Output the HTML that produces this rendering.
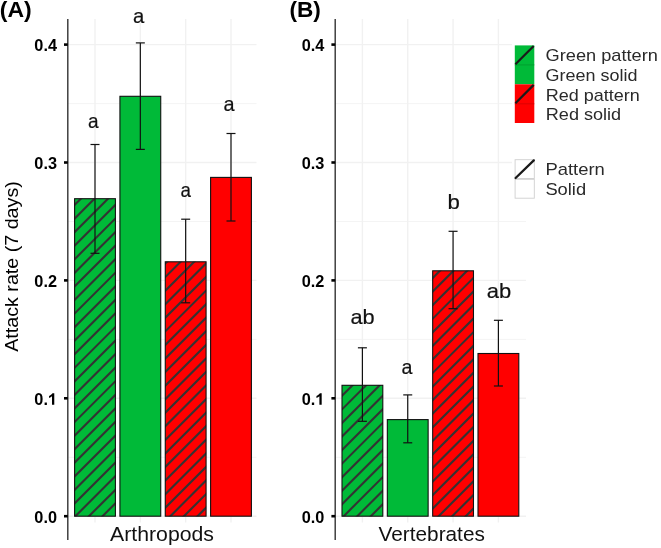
<!DOCTYPE html>
<html><head><meta charset="utf-8"><title>Attack rate chart</title>
<style>
html,body{margin:0;padding:0;background:#fff;}
body{width:661px;height:548px;overflow:hidden;}
svg{display:block;will-change:transform;}
text{font-family:"Liberation Sans",sans-serif;}
.lab{font-size:20.8px;fill:#111;stroke:#111;stroke-width:0.2px;}
.tick{font-size:16.3px;font-weight:bold;fill:#000;}
.leg{font-size:17px;fill:#2a2a2a;}
.pan{font-size:22px;font-weight:bold;fill:#000;}
.xl{font-size:20.5px;fill:#111;}
.yl{font-size:19.8px;fill:#000;}
</style></head>
<body>
<svg width="661" height="548" viewBox="0 0 661 548">
<rect width="100%" height="100%" fill="#fff"/>
<line x1="67.8" y1="457.25" x2="256.5" y2="457.25" stroke="#F1F1F1" stroke-width="0.8"/>
<line x1="67.8" y1="339.35" x2="256.5" y2="339.35" stroke="#F1F1F1" stroke-width="0.8"/>
<line x1="67.8" y1="221.45" x2="256.5" y2="221.45" stroke="#F1F1F1" stroke-width="0.8"/>
<line x1="67.8" y1="103.55" x2="256.5" y2="103.55" stroke="#F1F1F1" stroke-width="0.8"/>
<line x1="67.8" y1="516.20" x2="256.5" y2="516.20" stroke="#F1F1F1" stroke-width="1.4"/>
<line x1="67.8" y1="398.30" x2="256.5" y2="398.30" stroke="#F1F1F1" stroke-width="1.4"/>
<line x1="67.8" y1="280.40" x2="256.5" y2="280.40" stroke="#F1F1F1" stroke-width="1.4"/>
<line x1="67.8" y1="162.50" x2="256.5" y2="162.50" stroke="#F1F1F1" stroke-width="1.4"/>
<line x1="67.8" y1="44.60" x2="256.5" y2="44.60" stroke="#F1F1F1" stroke-width="1.4"/>
<line x1="95.00" y1="19.0" x2="95.00" y2="522.5" stroke="#F1F1F1" stroke-width="1.4"/>
<line x1="140.33" y1="19.0" x2="140.33" y2="522.5" stroke="#F1F1F1" stroke-width="1.4"/>
<line x1="185.67" y1="19.0" x2="185.67" y2="522.5" stroke="#F1F1F1" stroke-width="1.4"/>
<line x1="231.00" y1="19.0" x2="231.00" y2="522.5" stroke="#F1F1F1" stroke-width="1.4"/>
<line x1="335.2" y1="457.25" x2="526.0" y2="457.25" stroke="#F1F1F1" stroke-width="0.8"/>
<line x1="335.2" y1="339.35" x2="526.0" y2="339.35" stroke="#F1F1F1" stroke-width="0.8"/>
<line x1="335.2" y1="221.45" x2="526.0" y2="221.45" stroke="#F1F1F1" stroke-width="0.8"/>
<line x1="335.2" y1="103.55" x2="526.0" y2="103.55" stroke="#F1F1F1" stroke-width="0.8"/>
<line x1="335.2" y1="516.20" x2="526.0" y2="516.20" stroke="#F1F1F1" stroke-width="1.4"/>
<line x1="335.2" y1="398.30" x2="526.0" y2="398.30" stroke="#F1F1F1" stroke-width="1.4"/>
<line x1="335.2" y1="280.40" x2="526.0" y2="280.40" stroke="#F1F1F1" stroke-width="1.4"/>
<line x1="335.2" y1="162.50" x2="526.0" y2="162.50" stroke="#F1F1F1" stroke-width="1.4"/>
<line x1="335.2" y1="44.60" x2="526.0" y2="44.60" stroke="#F1F1F1" stroke-width="1.4"/>
<line x1="362.40" y1="19.0" x2="362.40" y2="522.5" stroke="#F1F1F1" stroke-width="1.4"/>
<line x1="407.73" y1="19.0" x2="407.73" y2="522.5" stroke="#F1F1F1" stroke-width="1.4"/>
<line x1="453.07" y1="19.0" x2="453.07" y2="522.5" stroke="#F1F1F1" stroke-width="1.4"/>
<line x1="498.40" y1="19.0" x2="498.40" y2="522.5" stroke="#F1F1F1" stroke-width="1.4"/>
<rect x="74.60" y="198.70" width="40.80" height="317.50" fill="#00BA38"/>
<clipPath id="cL0"><rect x="74.60" y="198.70" width="40.80" height="317.50"/></clipPath>
<g clip-path="url(#cL0)" stroke="#333333" stroke-width="2.1">
<line x1="69.60" y1="182.87" x2="120.40" y2="132.07"/>
<line x1="69.60" y1="196.44" x2="120.40" y2="145.64"/>
<line x1="69.60" y1="210.00" x2="120.40" y2="159.20"/>
<line x1="69.60" y1="223.57" x2="120.40" y2="172.77"/>
<line x1="69.60" y1="237.13" x2="120.40" y2="186.33"/>
<line x1="69.60" y1="250.70" x2="120.40" y2="199.90"/>
<line x1="69.60" y1="264.26" x2="120.40" y2="213.46"/>
<line x1="69.60" y1="277.83" x2="120.40" y2="227.03"/>
<line x1="69.60" y1="291.39" x2="120.40" y2="240.59"/>
<line x1="69.60" y1="304.96" x2="120.40" y2="254.16"/>
<line x1="69.60" y1="318.52" x2="120.40" y2="267.72"/>
<line x1="69.60" y1="332.09" x2="120.40" y2="281.29"/>
<line x1="69.60" y1="345.65" x2="120.40" y2="294.85"/>
<line x1="69.60" y1="359.22" x2="120.40" y2="308.42"/>
<line x1="69.60" y1="372.78" x2="120.40" y2="321.98"/>
<line x1="69.60" y1="386.35" x2="120.40" y2="335.55"/>
<line x1="69.60" y1="399.91" x2="120.40" y2="349.11"/>
<line x1="69.60" y1="413.48" x2="120.40" y2="362.68"/>
<line x1="69.60" y1="427.04" x2="120.40" y2="376.24"/>
<line x1="69.60" y1="440.61" x2="120.40" y2="389.81"/>
<line x1="69.60" y1="454.17" x2="120.40" y2="403.37"/>
<line x1="69.60" y1="467.73" x2="120.40" y2="416.93"/>
<line x1="69.60" y1="481.30" x2="120.40" y2="430.50"/>
<line x1="69.60" y1="494.86" x2="120.40" y2="444.06"/>
<line x1="69.60" y1="508.43" x2="120.40" y2="457.63"/>
<line x1="69.60" y1="521.99" x2="120.40" y2="471.19"/>
<line x1="69.60" y1="535.56" x2="120.40" y2="484.76"/>
<line x1="69.60" y1="549.12" x2="120.40" y2="498.32"/>
<line x1="69.60" y1="562.69" x2="120.40" y2="511.89"/>
<line x1="69.60" y1="576.25" x2="120.40" y2="525.45"/>
</g>
<rect x="74.60" y="198.70" width="40.80" height="317.50" fill="none" stroke="#111" stroke-width="1.1"/>
<rect x="119.93" y="96.30" width="40.80" height="419.90" fill="#00BA38"/>
<rect x="119.93" y="96.30" width="40.80" height="419.90" fill="none" stroke="#111" stroke-width="1.1"/>
<rect x="165.27" y="261.80" width="40.80" height="254.40" fill="#FF0000"/>
<clipPath id="cL2"><rect x="165.27" y="261.80" width="40.80" height="254.40"/></clipPath>
<g clip-path="url(#cL2)" stroke="#333333" stroke-width="2.1">
<line x1="160.27" y1="241.42" x2="211.07" y2="190.62"/>
<line x1="160.27" y1="254.98" x2="211.07" y2="204.18"/>
<line x1="160.27" y1="268.55" x2="211.07" y2="217.75"/>
<line x1="160.27" y1="282.11" x2="211.07" y2="231.31"/>
<line x1="160.27" y1="295.68" x2="211.07" y2="244.88"/>
<line x1="160.27" y1="309.24" x2="211.07" y2="258.44"/>
<line x1="160.27" y1="322.81" x2="211.07" y2="272.00"/>
<line x1="160.27" y1="336.37" x2="211.07" y2="285.57"/>
<line x1="160.27" y1="349.94" x2="211.07" y2="299.13"/>
<line x1="160.27" y1="363.50" x2="211.07" y2="312.70"/>
<line x1="160.27" y1="377.06" x2="211.07" y2="326.26"/>
<line x1="160.27" y1="390.63" x2="211.07" y2="339.83"/>
<line x1="160.27" y1="404.19" x2="211.07" y2="353.39"/>
<line x1="160.27" y1="417.76" x2="211.07" y2="366.96"/>
<line x1="160.27" y1="431.32" x2="211.07" y2="380.52"/>
<line x1="160.27" y1="444.89" x2="211.07" y2="394.09"/>
<line x1="160.27" y1="458.45" x2="211.07" y2="407.65"/>
<line x1="160.27" y1="472.02" x2="211.07" y2="421.22"/>
<line x1="160.27" y1="485.58" x2="211.07" y2="434.78"/>
<line x1="160.27" y1="499.15" x2="211.07" y2="448.35"/>
<line x1="160.27" y1="512.71" x2="211.07" y2="461.91"/>
<line x1="160.27" y1="526.28" x2="211.07" y2="475.48"/>
<line x1="160.27" y1="539.84" x2="211.07" y2="489.04"/>
<line x1="160.27" y1="553.41" x2="211.07" y2="502.61"/>
<line x1="160.27" y1="566.97" x2="211.07" y2="516.17"/>
<line x1="160.27" y1="580.54" x2="211.07" y2="529.74"/>
</g>
<rect x="165.27" y="261.80" width="40.80" height="254.40" fill="none" stroke="#111" stroke-width="1.1"/>
<rect x="210.60" y="177.40" width="40.80" height="338.80" fill="#FF0000"/>
<rect x="210.60" y="177.40" width="40.80" height="338.80" fill="none" stroke="#111" stroke-width="1.1"/>
<g stroke="#111" stroke-width="1.2"><line x1="95.00" y1="144.50" x2="95.00" y2="253.30"/><line x1="90.50" y1="144.50" x2="99.50" y2="144.50"/><line x1="90.50" y1="253.30" x2="99.50" y2="253.30"/></g>
<g stroke="#111" stroke-width="1.2"><line x1="140.33" y1="42.90" x2="140.33" y2="149.40"/><line x1="135.83" y1="42.90" x2="144.83" y2="42.90"/><line x1="135.83" y1="149.40" x2="144.83" y2="149.40"/></g>
<g stroke="#111" stroke-width="1.2"><line x1="185.67" y1="219.20" x2="185.67" y2="302.80"/><line x1="181.17" y1="219.20" x2="190.17" y2="219.20"/><line x1="181.17" y1="302.80" x2="190.17" y2="302.80"/></g>
<g stroke="#111" stroke-width="1.2"><line x1="231.00" y1="133.50" x2="231.00" y2="221.00"/><line x1="226.50" y1="133.50" x2="235.50" y2="133.50"/><line x1="226.50" y1="221.00" x2="235.50" y2="221.00"/></g>
<rect x="342.00" y="385.30" width="40.80" height="130.90" fill="#00BA38"/>
<clipPath id="cR0"><rect x="342.00" y="385.30" width="40.80" height="130.90"/></clipPath>
<g clip-path="url(#cR0)" stroke="#333333" stroke-width="2.1">
<line x1="337.00" y1="373.68" x2="387.80" y2="322.88"/>
<line x1="337.00" y1="387.25" x2="387.80" y2="336.44"/>
<line x1="337.00" y1="400.81" x2="387.80" y2="350.01"/>
<line x1="337.00" y1="414.38" x2="387.80" y2="363.57"/>
<line x1="337.00" y1="427.94" x2="387.80" y2="377.14"/>
<line x1="337.00" y1="441.50" x2="387.80" y2="390.70"/>
<line x1="337.00" y1="455.07" x2="387.80" y2="404.27"/>
<line x1="337.00" y1="468.63" x2="387.80" y2="417.83"/>
<line x1="337.00" y1="482.20" x2="387.80" y2="431.40"/>
<line x1="337.00" y1="495.76" x2="387.80" y2="444.96"/>
<line x1="337.00" y1="509.33" x2="387.80" y2="458.53"/>
<line x1="337.00" y1="522.89" x2="387.80" y2="472.09"/>
<line x1="337.00" y1="536.46" x2="387.80" y2="485.66"/>
<line x1="337.00" y1="550.02" x2="387.80" y2="499.22"/>
<line x1="337.00" y1="563.59" x2="387.80" y2="512.79"/>
<line x1="337.00" y1="577.15" x2="387.80" y2="526.36"/>
</g>
<rect x="342.00" y="385.30" width="40.80" height="130.90" fill="none" stroke="#111" stroke-width="1.1"/>
<rect x="387.33" y="419.60" width="40.80" height="96.60" fill="#00BA38"/>
<rect x="387.33" y="419.60" width="40.80" height="96.60" fill="none" stroke="#111" stroke-width="1.1"/>
<rect x="432.67" y="270.80" width="40.80" height="245.40" fill="#FF0000"/>
<clipPath id="cR2"><rect x="432.67" y="270.80" width="40.80" height="245.40"/></clipPath>
<g clip-path="url(#cR2)" stroke="#333333" stroke-width="2.1">
<line x1="427.67" y1="255.88" x2="478.47" y2="205.08"/>
<line x1="427.67" y1="269.45" x2="478.47" y2="218.65"/>
<line x1="427.67" y1="283.01" x2="478.47" y2="232.21"/>
<line x1="427.67" y1="296.58" x2="478.47" y2="245.78"/>
<line x1="427.67" y1="310.14" x2="478.47" y2="259.34"/>
<line x1="427.67" y1="323.71" x2="478.47" y2="272.91"/>
<line x1="427.67" y1="337.27" x2="478.47" y2="286.47"/>
<line x1="427.67" y1="350.84" x2="478.47" y2="300.04"/>
<line x1="427.67" y1="364.40" x2="478.47" y2="313.60"/>
<line x1="427.67" y1="377.97" x2="478.47" y2="327.17"/>
<line x1="427.67" y1="391.53" x2="478.47" y2="340.73"/>
<line x1="427.67" y1="405.10" x2="478.47" y2="354.30"/>
<line x1="427.67" y1="418.66" x2="478.47" y2="367.86"/>
<line x1="427.67" y1="432.23" x2="478.47" y2="381.43"/>
<line x1="427.67" y1="445.79" x2="478.47" y2="394.99"/>
<line x1="427.67" y1="459.36" x2="478.47" y2="408.56"/>
<line x1="427.67" y1="472.92" x2="478.47" y2="422.12"/>
<line x1="427.67" y1="486.49" x2="478.47" y2="435.69"/>
<line x1="427.67" y1="500.05" x2="478.47" y2="449.25"/>
<line x1="427.67" y1="513.62" x2="478.47" y2="462.81"/>
<line x1="427.67" y1="527.18" x2="478.47" y2="476.38"/>
<line x1="427.67" y1="540.75" x2="478.47" y2="489.94"/>
<line x1="427.67" y1="554.31" x2="478.47" y2="503.51"/>
<line x1="427.67" y1="567.88" x2="478.47" y2="517.08"/>
<line x1="427.67" y1="581.44" x2="478.47" y2="530.64"/>
</g>
<rect x="432.67" y="270.80" width="40.80" height="245.40" fill="none" stroke="#111" stroke-width="1.1"/>
<rect x="478.00" y="353.50" width="40.80" height="162.70" fill="#FF0000"/>
<rect x="478.00" y="353.50" width="40.80" height="162.70" fill="none" stroke="#111" stroke-width="1.1"/>
<g stroke="#111" stroke-width="1.2"><line x1="362.40" y1="347.80" x2="362.40" y2="421.30"/><line x1="357.90" y1="347.80" x2="366.90" y2="347.80"/><line x1="357.90" y1="421.30" x2="366.90" y2="421.30"/></g>
<g stroke="#111" stroke-width="1.2"><line x1="407.73" y1="394.90" x2="407.73" y2="442.80"/><line x1="403.23" y1="394.90" x2="412.23" y2="394.90"/><line x1="403.23" y1="442.80" x2="412.23" y2="442.80"/></g>
<g stroke="#111" stroke-width="1.2"><line x1="453.07" y1="231.30" x2="453.07" y2="308.70"/><line x1="448.57" y1="231.30" x2="457.57" y2="231.30"/><line x1="448.57" y1="308.70" x2="457.57" y2="308.70"/></g>
<g stroke="#111" stroke-width="1.2"><line x1="498.40" y1="320.30" x2="498.40" y2="386.00"/><line x1="493.90" y1="320.30" x2="502.90" y2="320.30"/><line x1="493.90" y1="386.00" x2="502.90" y2="386.00"/></g>
<line x1="67.8" y1="19.0" x2="67.8" y2="540.0" stroke="#333333" stroke-width="1.4"/>
<line x1="64.00" y1="516.20" x2="67.80" y2="516.20" stroke="#000" stroke-width="2.6"/>
<text x="57.00" y="522.70" class="tick" text-anchor="end">0.0</text>
<line x1="64.00" y1="398.30" x2="67.80" y2="398.30" stroke="#000" stroke-width="2.6"/>
<text x="34.34" y="404.80" class="tick">0.</text>
<path transform="translate(47.94,404.80) scale(0.01630,-0.01630)" d="M389 0H249V527C197 478 137 443 68 420V547C104 559 144 582 188 616C232 650 262 690 278 716H389Z" fill="#000"/>
<line x1="64.00" y1="280.40" x2="67.80" y2="280.40" stroke="#000" stroke-width="2.6"/>
<text x="57.00" y="286.90" class="tick" text-anchor="end">0.2</text>
<line x1="64.00" y1="162.50" x2="67.80" y2="162.50" stroke="#000" stroke-width="2.6"/>
<text x="57.00" y="169.00" class="tick" text-anchor="end">0.3</text>
<line x1="64.00" y1="44.60" x2="67.80" y2="44.60" stroke="#000" stroke-width="2.6"/>
<text x="57.00" y="51.10" class="tick" text-anchor="end">0.4</text>
<line x1="335.2" y1="19.0" x2="335.2" y2="540.0" stroke="#333333" stroke-width="1.4"/>
<line x1="331.40" y1="516.20" x2="335.20" y2="516.20" stroke="#000" stroke-width="2.6"/>
<text x="324.40" y="522.70" class="tick" text-anchor="end">0.0</text>
<line x1="331.40" y1="398.30" x2="335.20" y2="398.30" stroke="#000" stroke-width="2.6"/>
<text x="301.74" y="404.80" class="tick">0.</text>
<path transform="translate(315.34,404.80) scale(0.01630,-0.01630)" d="M389 0H249V527C197 478 137 443 68 420V547C104 559 144 582 188 616C232 650 262 690 278 716H389Z" fill="#000"/>
<line x1="331.40" y1="280.40" x2="335.20" y2="280.40" stroke="#000" stroke-width="2.6"/>
<text x="324.40" y="286.90" class="tick" text-anchor="end">0.2</text>
<line x1="331.40" y1="162.50" x2="335.20" y2="162.50" stroke="#000" stroke-width="2.6"/>
<text x="324.40" y="169.00" class="tick" text-anchor="end">0.3</text>
<line x1="331.40" y1="44.60" x2="335.20" y2="44.60" stroke="#000" stroke-width="2.6"/>
<text x="324.40" y="51.10" class="tick" text-anchor="end">0.4</text>
<rect x="512" y="38" width="149" height="168" fill="#fff"/>
<rect x="514.8" y="45.4" width="19.5" height="38.90" fill="#00BA38"/>
<rect x="514.8" y="84.3" width="19.5" height="38.70" fill="#FF0000"/>
<line x1="514.8" y1="64.9" x2="534.3" y2="64.9" stroke="#009a2c" stroke-width="0.8"/>
<line x1="514.8" y1="103.8" x2="534.3" y2="103.8" stroke="#d40000" stroke-width="0.8"/>
<line x1="515.4" y1="64.30" x2="533.70" y2="46.00" stroke="#1a1a1a" stroke-width="2.2"/>
<line x1="515.4" y1="103.20" x2="533.70" y2="84.90" stroke="#1a1a1a" stroke-width="2.2"/>
<rect x="515.1" y="159.70" width="19.2" height="18.80" fill="#fff" stroke="#cfcfcf" stroke-width="0.9"/>
<rect x="515.1" y="179.30" width="19.2" height="18.90" fill="#fff" stroke="#cfcfcf" stroke-width="0.9"/>
<line x1="515.6" y1="178.0" x2="533.8" y2="160.4" stroke="#1a1a1a" stroke-width="2.3" stroke-linecap="round"/>
<text transform="translate(-0.20,17.00) rotate(0.01)" class="pan" text-anchor="start" textLength="31.95" lengthAdjust="spacingAndGlyphs">(A)</text>
<text x="289.40" y="17.20" class="pan" text-anchor="start" textLength="31.37" lengthAdjust="spacingAndGlyphs">(B)</text>
<text x="162.00" y="541.00" class="xl" text-anchor="middle" textLength="103.93" lengthAdjust="spacingAndGlyphs">Arthropods</text>
<text x="431.70" y="540.80" class="xl" text-anchor="middle" textLength="106.32" lengthAdjust="spacingAndGlyphs">Vertebrates</text>
<text transform="translate(17.60,266.50) rotate(-90) scale(1,0.92)" class="yl" text-anchor="middle" textLength="170.59" lengthAdjust="spacingAndGlyphs">Attack rate (7 days)</text>
<text x="93.30" y="127.80" class="lab" text-anchor="middle" textLength="10.58" lengthAdjust="spacingAndGlyphs">a</text>
<text x="138.53" y="22.60" class="lab" text-anchor="middle" textLength="11.29" lengthAdjust="spacingAndGlyphs">a</text>
<text x="185.77" y="196.70" class="lab" text-anchor="middle" textLength="10.45" lengthAdjust="spacingAndGlyphs">a</text>
<text x="229.10" y="111.20" class="lab" text-anchor="middle" textLength="11.06" lengthAdjust="spacingAndGlyphs">a</text>
<text x="362.50" y="323.60" class="lab" text-anchor="middle" textLength="24.20" lengthAdjust="spacingAndGlyphs">ab</text>
<text x="407.00" y="374.00" class="lab" text-anchor="middle" textLength="10.95" lengthAdjust="spacingAndGlyphs">a</text>
<text x="453.60" y="209.40" class="lab" text-anchor="middle" textLength="12.36" lengthAdjust="spacingAndGlyphs">b</text>
<text x="499.00" y="297.60" class="lab" text-anchor="middle" textLength="24.46" lengthAdjust="spacingAndGlyphs">ab</text>
<text x="545.60" y="61.40" class="leg" text-anchor="start" textLength="112.28" lengthAdjust="spacingAndGlyphs">Green pattern</text>
<text x="545.60" y="80.90" class="leg" text-anchor="start" textLength="91.90" lengthAdjust="spacingAndGlyphs">Green solid</text>
<text x="545.80" y="100.50" class="leg" text-anchor="start" textLength="94.07" lengthAdjust="spacingAndGlyphs">Red pattern</text>
<text x="545.80" y="119.90" class="leg" text-anchor="start" textLength="75.34" lengthAdjust="spacingAndGlyphs">Red solid</text>
<text x="545.40" y="175.40" class="leg" text-anchor="start" textLength="59.37" lengthAdjust="spacingAndGlyphs">Pattern</text>
<text x="545.40" y="194.80" class="leg" text-anchor="start" textLength="40.72" lengthAdjust="spacingAndGlyphs">Solid</text>
</svg>
</body></html>
